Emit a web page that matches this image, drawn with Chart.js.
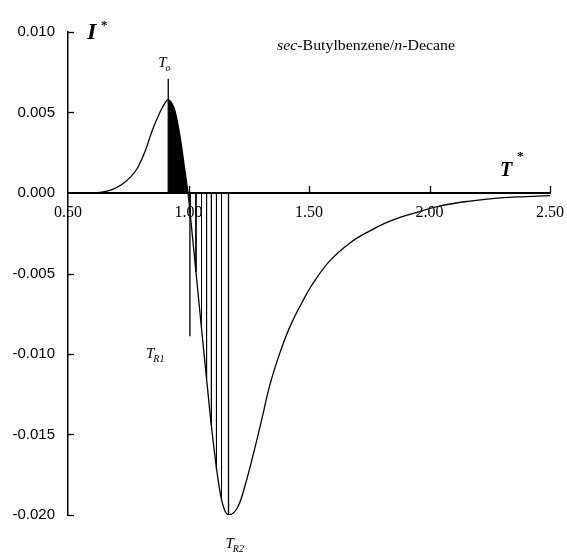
<!DOCTYPE html>
<html>
<head>
<meta charset="utf-8">
<style>
  html, body { margin: 0; padding: 0; background: #fff; }
  #wrap { width: 567px; height: 558px; }
</style>
<script src="https://cdn.jsdelivr.net/npm/chart.js@4.4.0/dist/chart.umd.min.js"></script>
</head>
<body>
<div id="wrap"><canvas id="c" width="567" height="558"></canvas></div>
<script>
// Reduced temperature T* and reduced intensity I* along the curve
const tStar = [0.50, 0.60, 0.64, 0.68, 0.72, 0.76, 0.79, 0.82, 0.85, 0.875, 0.895, 0.908,
  0.916, 0.93, 0.944, 0.965, 0.985, 0.998, 1.019, 1.048, 1.076, 1.102, 1.131,
  1.150, 1.168, 1.201, 1.234, 1.276, 1.305, 1.338, 1.380, 1.421, 1.471, 1.517, 1.587,
  1.670, 1.753, 1.836, 1.948, 2.044, 2.168, 2.293, 2.40, 2.50];
const iStar = [0, 0, 0.00005, 0.0002, 0.0005, 0.0010, 0.0016, 0.0026, 0.0039, 0.0048, 0.0054, 0.0057,
  0.0058, 0.0056, 0.0051, 0.0035, 0.0014, 0, -0.0031, -0.0075, -0.0117, -0.0154, -0.0186,
  -0.0197, -0.0200, -0.0196, -0.0182, -0.0158, -0.0140, -0.0119, -0.0099, -0.0083, -0.0068, -0.0056, -0.0042,
  -0.0031, -0.00235, -0.00175, -0.0012, -0.0008, -0.0005, -0.0003, -0.00022, -0.00016];

// Shaded (black) interval between T0 and the zero crossing
const fillFrom = 0.916;
const fillTo = 0.998;

// Vertical hatch lines under the negative lobe
const hatchT = [1.006, 1.031, 1.054, 1.075, 1.095, 1.116, 1.137];
const hatchI = [-0.0012, -0.0049, -0.0084, -0.0115, -0.0144, -0.0172, -0.0191];

// Characteristic temperatures, marked with vertical lines
const markerNames = ['o', 'R1', 'R2'];
const markerT = [0.916, 1.006, 1.166];
const markerFrom = [0, 0, 0];
const markerTo = [0.0071, -0.0089, -0.0209];

// Axis ticks
const xTicks = [0.50, 1.00, 1.50, 2.00, 2.50];
const yTicks = [0.010, 0.005, 0.000, -0.005, -0.010, -0.015, -0.020];

const curve = tStar.map((t, k) => ({ x: t, y: iStar[k] }));
const fillPts = curve.filter(p => p.x >= fillFrom && p.x <= fillTo);

function segments(xs, y0s, y1s) {
  const out = [];
  xs.forEach((x, k) => {
    out.push({ x: x, y: y0s[k] });
    out.push({ x: x, y: y1s[k] });
    out.push({ x: x, y: null });
  });
  return out;
}
const hatchPts = segments(hatchT, hatchT.map(() => 0), hatchI);
const markerPts = segments(markerT, markerFrom, markerTo);

const SERIF = '"Liberation Serif", "Times New Roman", serif';
const SANS = '"Liberation Sans", Arial, sans-serif';

const decorations = {
  id: 'decorations',
  afterDraw(chart) {
    const ctx = chart.ctx;
    const xs = chart.scales.x, ys = chart.scales.y;
    const left = chart.chartArea.left;
    const y0 = ys.getPixelForValue(0);
    ctx.save();
    ctx.strokeStyle = '#000';
    ctx.fillStyle = '#000';

    // inward tick marks
    ctx.lineWidth = 1.3;
    yTicks.forEach(v => {
      if (v === 0) return;
      const py = Math.round(ys.getPixelForValue(v)) + 0.5;
      ctx.beginPath(); ctx.moveTo(left, py); ctx.lineTo(left + 6, py); ctx.stroke();
    });
    xTicks.forEach(v => {
      if (v === 0.5) return;
      const px = Math.round(xs.getPixelForValue(v)) + 0.5;
      ctx.beginPath(); ctx.moveTo(px, y0); ctx.lineTo(px, y0 - 7); ctx.stroke();
    });

    // axis symbols
    ctx.textBaseline = 'alphabetic';
    ctx.textAlign = 'left';
    ctx.font = 'bold italic 24px ' + SERIF;
    ctx.fillText('I', left + 19, 39);
    ctx.font = 'bold 13px ' + SERIF;
    ctx.fillText('*', left + 33, 29);
    ctx.font = 'bold italic 20px ' + SERIF;
    ctx.fillText('T', 500, 176);
    ctx.font = 'bold 13px ' + SERIF;
    ctx.fillText('*', 517, 160);

    // system name
    const parts = [['sec', 'italic '], ['-Butylbenzene/', ''], ['n', 'italic '], ['-Decane', '']];
    let total = 0;
    parts.forEach(p => { ctx.font = p[1] + '15px ' + SERIF; total += ctx.measureText(p[0]).width; });
    const sx = 178 / total;
    ctx.save();
    ctx.translate(277, 50);
    ctx.scale(sx, 1);
    let cx = 0;
    parts.forEach(p => {
      ctx.font = p[1] + '15px ' + SERIF;
      ctx.fillText(p[0], cx, 0);
      cx += ctx.measureText(p[0]).width;
    });
    ctx.restore();

    // labels of the characteristic temperatures
    function tLabel(x, base, sub) {
      ctx.font = 'italic 15px ' + SERIF;
      ctx.fillText('T', x, base);
      const w = ctx.measureText('T').width;
      ctx.font = 'italic 10px ' + SERIF;
      ctx.fillText(sub, x + w - 1, base + 4);
    }
    const pT0 = xs.getPixelForValue(markerT[0]);
    tLabel(pT0 - 10, 67, markerNames[0]);
    const pR1 = xs.getPixelForValue(markerT[1]);
    tLabel(pR1 - 44, 358, markerNames[1]);
    const pR2 = xs.getPixelForValue(markerT[2]);
    tLabel(pR2 - 3, 548, markerNames[2]);
    ctx.restore();
  }
};

new Chart(document.getElementById('c'), {
  type: 'line',
  data: {
    datasets: [
      { data: fillPts, borderWidth: 0, borderColor: '#000', backgroundColor: '#000',
        fill: 'origin', pointRadius: 0, tension: 0.4 },
      { data: curve, borderWidth: 1.3, borderColor: '#000', fill: false,
        pointRadius: 0, tension: 0.4 },
      { data: hatchPts, borderWidth: 1, borderColor: '#000', fill: false,
        pointRadius: 0, spanGaps: false, tension: 0 },
      { data: markerPts, borderWidth: 1.3, borderColor: '#000', fill: false,
        pointRadius: 0, spanGaps: false, tension: 0 }
    ]
  },
  options: {
    responsive: false,
    animation: false,
    devicePixelRatio: 1,
    events: [],
    layout: { padding: { left: 0, top: 32, right: 17, bottom: 43 } },
    plugins: { legend: { display: false }, tooltip: { enabled: false } },
    scales: {
      x: {
        type: 'linear', min: 0.5, max: 2.5, position: { y: 0 },
        afterBuildTicks: s => { s.ticks = xTicks.map(v => ({ value: v })); },
        afterFit: s => { s.paddingLeft = 0; s.paddingRight = 0; },
        ticks: { callback: v => Number(v).toFixed(2), color: '#000', padding: 10,
          font: { family: SERIF, size: 16 }, maxRotation: 0, autoSkip: false },
        grid: { display: false, drawTicks: false },
        border: { display: true, color: '#000', width: 2 }
      },
      y: {
        type: 'linear', min: -0.02, max: 0.01,
        afterBuildTicks: s => { s.ticks = yTicks.map(v => ({ value: v })); },
        afterFit: s => { s.width = 68; s.paddingTop = 0; s.paddingBottom = 0; },
        ticks: { callback: v => Number(v).toFixed(3), color: '#000', padding: 13,
          font: { family: SANS, size: 15 } },
        grid: { display: false, drawTicks: false },
        border: { display: true, color: '#000', width: 1.5 }
      }
    }
  },
  plugins: [decorations]
});
</script>
</body>
</html>
